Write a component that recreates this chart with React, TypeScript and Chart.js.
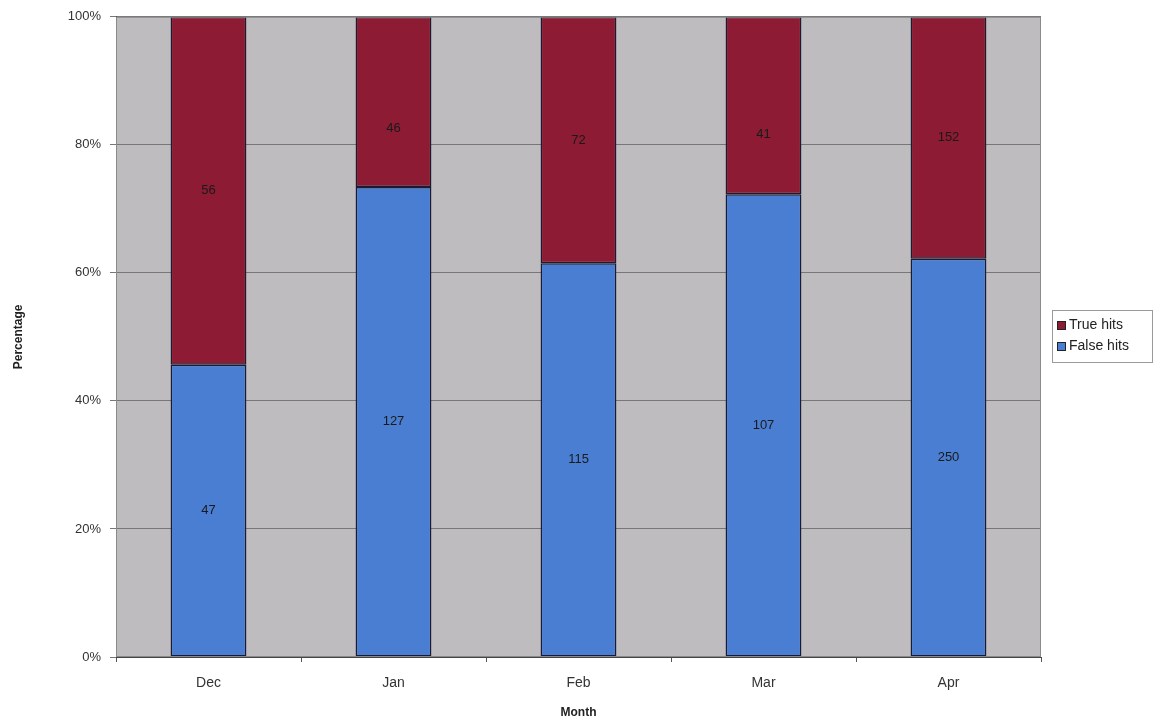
import React, { useEffect, useRef } from "react";
import { Chart, registerables } from "chart.js";

Chart.register(...registerables);

const months = ["Dec", "Jan", "Feb", "Mar", "Apr"];
const falseHits = [47, 127, 115, 107, 250];
const trueHits = [56, 46, 72, 41, 152];
const yTicks = [0, 20, 40, 60, 80, 100];

const totals = months.map((_, i) => falseHits[i] + trueHits[i]);
const falsePct = falseHits.map((v, i) => (v / totals[i]) * 100);
const truePct = trueHits.map((v, i) => (v / totals[i]) * 100);

const RED = "#8c1b33";
const BLUE = "#4a7ed2";
const PLOT_BG = "#bfbcc0";
const FONT = "Arial, 'Liberation Sans', sans-serif";

const bgPlugin = {
  id: "plotBg",
  beforeDraw(chart: any) {
    const { ctx, chartArea: a } = chart;
    ctx.save();
    ctx.fillStyle = "#ffffff";
    ctx.fillRect(0, 0, chart.width, chart.height);
    ctx.fillStyle = PLOT_BG;
    ctx.fillRect(a.left, a.top, a.right - a.left, a.bottom - a.top);
    ctx.restore();
  },
  afterDraw(chart: any) {
    const { ctx, chartArea: a } = chart;
    ctx.save();
    ctx.strokeStyle = "#8a8a8a";
    ctx.lineWidth = 1;
    ctx.strokeRect(a.left + 0.5, a.top + 0.5, a.right - a.left - 1, a.bottom - a.top - 1);
    ctx.restore();
  },
};

const labelPlugin = {
  id: "segLabels",
  afterDatasetsDraw(chart: any, _args: any, opts: any) {
    const { ctx } = chart;
    ctx.save();
    ctx.font = "13px " + FONT;
    ctx.fillStyle = "#1a1a1a";
    ctx.textAlign = "center";
    ctx.textBaseline = "middle";
    chart.data.datasets.forEach((ds: any, di: number) => {
      const meta = chart.getDatasetMeta(di);
      meta.data.forEach((bar: any, i: number) => {
        const counts = ds.counts as number[];
        const shift = (opts.shifts && opts.shifts[di] && opts.shifts[di][i]) || 0;
        const y = (bar.y + bar.base) / 2 + shift;
        ctx.fillText(String(counts[i]), bar.x, y);
      });
    });
    ctx.restore();
  },
};

const legendPlugin = {
  id: "boxLegend",
  afterDraw(chart: any) {
    const { ctx } = chart;
    const x = 1052, y = 310, w = 100, h = 52;
    ctx.save();
    ctx.fillStyle = "#ffffff";
    ctx.fillRect(x, y, w, h);
    ctx.strokeStyle = "#9a9a9a";
    ctx.lineWidth = 1;
    ctx.strokeRect(x + 0.5, y + 0.5, w, h);
    const items = [
      { label: "True hits", color: RED },
      { label: "False hits", color: BLUE },
    ];
    ctx.font = "14px " + FONT;
    ctx.textBaseline = "middle";
    ctx.textAlign = "left";
    items.forEach((it, k) => {
      const cy = y + 15 + k * 21;
      ctx.fillStyle = it.color;
      ctx.fillRect(x + 5, cy - 4, 9, 9);
      ctx.strokeStyle = "#222";
      ctx.strokeRect(x + 5.5, cy - 3.5, 8, 8);
      ctx.fillStyle = "#222";
      ctx.fillText(it.label, x + 17, cy);
    });
    ctx.restore();
  },
};

export default function App() {
  const ref = useRef<HTMLCanvasElement>(null);
  useEffect(() => {
    if (!ref.current) return;
    const chart = new Chart(ref.current, {
      type: "bar",
      data: {
        labels: months,
        datasets: [
          {
            label: "False hits",
            data: falsePct,
            counts: falseHits,
            backgroundColor: BLUE,
            borderColor: "#1a1a30",
            borderWidth: 1.5,
            borderSkipped: false,
          } as any,
          {
            label: "True hits",
            data: truePct,
            counts: trueHits,
            backgroundColor: RED,
            borderColor: "#1a1a30",
            borderWidth: 1.5,
            borderSkipped: false,
          } as any,
        ],
      },
      options: {
        responsive: false,
        animation: false,
        layout: { padding: { top: 15, right: 114, left: 0, bottom: 0 } },
        datasets: { bar: { barPercentage: 0.41, categoryPercentage: 1 } },
        plugins: {
          legend: { display: false },
          tooltip: { enabled: false },
          segLabels: { shifts: [[0, 0, 0, 0, 0], [0, 27, 0, 29, 0]] },
        } as any,
        scales: {
          x: {
            stacked: true,
            offset: true,
            grid: {
              display: true,
              drawOnChartArea: false,
              offset: true,
              tickLength: 5,
              color: "#555",
            },
            border: { display: true, color: "#444", width: 1 },
            ticks: {
              color: "#333",
              font: { family: FONT, size: 14 },
              padding: 13,
            },
            title: {
              display: true,
              text: "Month",
              color: "#222",
              font: { family: FONT, size: 12, weight: "bold" },
              padding: { top: 4, bottom: 0 },
            },
            afterFit(scale: any) {
              scale.height = 63;
            },
          },
          y: {
            stacked: true,
            min: 0,
            max: 100,
            afterBuildTicks(scale: any) {
              scale.ticks = yTicks.map((v) => ({ value: v }));
            },
            grid: {
              color: "#777",
              lineWidth: 1,
              tickLength: 6,
            },
            border: { display: true, color: "#444", width: 1 },
            ticks: {
              color: "#333",
              font: { family: FONT, size: 13 },
              padding: 9,
              callback: (v: any) => v + "%",
            },
            title: {
              display: true,
              text: "Percentage",
              color: "#222",
              font: { family: FONT, size: 12, weight: "bold" },
              padding: { top: 11, bottom: 0 },
            },
            afterFit(scale: any) {
              scale.width = 116;
            },
          },
        },
      },
      plugins: [bgPlugin, labelPlugin, legendPlugin],
    });
    return () => chart.destroy();
  }, []);
  return (
    <div style={{ position: "absolute", left: 0, top: 0, width: 1155, height: 720, background: "#fff" }}>
      <canvas ref={ref} width={1155} height={720} style={{ display: "block" }} />
    </div>
  );
}
